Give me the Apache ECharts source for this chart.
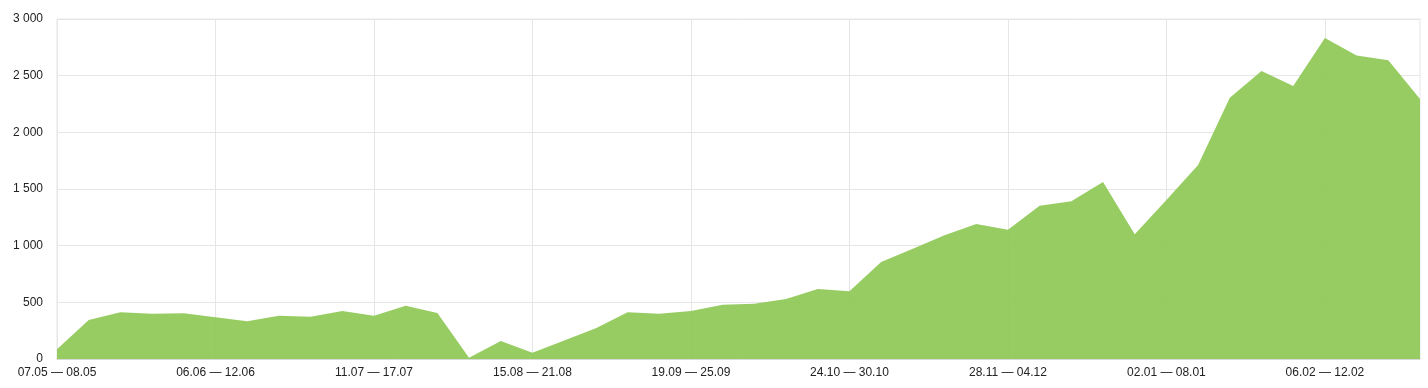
<!DOCTYPE html>
<html><head><meta charset="utf-8">
<script src="https://cdn.jsdelivr.net/npm/echarts@6/dist/echarts.min.js"></script>
<style>html,body{margin:0;padding:0;background:#fff;}#c{width:1428px;height:388px;}</style>
</head><body><div id="c"></div>
<script>
const categories = [
  "07.05 — 08.05","09.05 — 15.05","16.05 — 22.05","23.05 — 29.05","30.05 — 05.06",
  "06.06 — 12.06","13.06 — 19.06","20.06 — 26.06","27.06 — 03.07","04.07 — 10.07",
  "11.07 — 17.07","18.07 — 24.07","25.07 — 31.07","01.08 — 07.08","08.08 — 14.08",
  "15.08 — 21.08","22.08 — 28.08","29.08 — 04.09","05.09 — 11.09","12.09 — 18.09",
  "19.09 — 25.09","26.09 — 02.10","03.10 — 09.10","10.10 — 16.10","17.10 — 23.10",
  "24.10 — 30.10","31.10 — 06.11","07.11 — 13.11","14.11 — 20.11","21.11 — 27.11",
  "28.11 — 04.12","05.12 — 11.12","12.12 — 18.12","19.12 — 25.12","26.12 — 01.01",
  "02.01 — 08.01","09.01 — 15.01","16.01 — 22.01","23.01 — 29.01","30.01 — 05.02",
  "06.02 — 12.02","13.02 — 19.02","20.02 — 26.02","27.02 — 05.03"
];
const values = [
  85, 345, 412, 400, 403, 368, 332, 382, 373, 424,
  382, 470, 406, 12, 159, 56, 163, 271, 412, 400,
  424, 479, 488, 529, 618, 597, 856, 973, 1092, 1191,
  1141, 1353, 1391, 1562, 1100, 1404, 1712, 2306, 2541, 2409,
  2832, 2679, 2635, 2294
];
const yMin = 0, yMax = 3000, yStep = 500;

const chart = echarts.init(document.getElementById('c'));
chart.setOption({
  animation: false,
  grid: { left: 57, right: 8, top: 19, bottom: 29, show: true, borderColor: '#e6e6e6', borderWidth: 1 },
  xAxis: {
    type: 'category', data: categories, boundaryGap: false,
    axisLine: { lineStyle: { color: '#d8d8d8' } },
    axisTick: { show: false },
    axisLabel: { interval: 4, color: '#222', fontFamily: 'Liberation Sans, Arial, sans-serif', fontSize: 12, margin: 8 },
    splitLine: { show: true, interval: 4, lineStyle: { color: '#e6e6e6' } }
  },
  yAxis: {
    type: 'value', min: yMin, max: yMax, interval: yStep,
    axisLine: { show: false }, axisTick: { show: false },
    axisLabel: { color: '#222', fontFamily: 'Liberation Sans, Arial, sans-serif', fontSize: 12, margin: 14,
      formatter: v => String(v).replace(/\B(?=(\d{3})+(?!\d))/g, ' ') },
    splitLine: { lineStyle: { color: '#e6e6e6' } }
  },
  series: [{
    type: 'line', data: values, showSymbol: false, symbol: 'none',
    lineStyle: { width: 0 },
    areaStyle: { color: 'rgba(140,198,82,0.9)', opacity: 1 }
  }]
});
</script></body></html>
